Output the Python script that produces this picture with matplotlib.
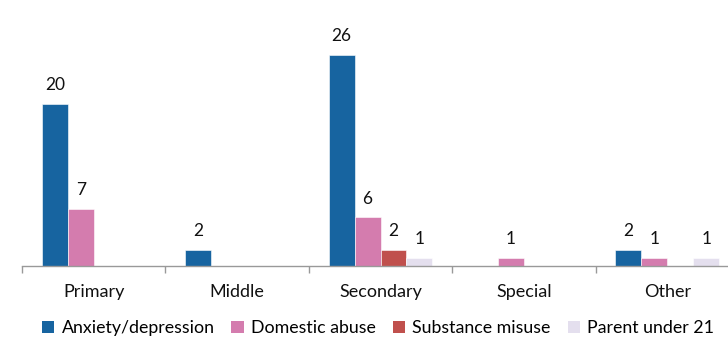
import matplotlib
matplotlib.use("Agg")
import matplotlib.pyplot as plt
from matplotlib.patches import Patch
import numpy as np

plt.rcParams['font.family'] = ['Lato', 'DejaVu Sans']

categories = ['Primary', 'Middle', 'Secondary', 'Special', 'Other']
series = ['Anxiety/depression', 'Domestic abuse', 'Substance misuse', 'Parent under 21']
anxiety = [20, 2, 26, 0, 2]
domestic = [7, 0, 6, 1, 1]
substance = [0, 0, 2, 0, 0]
parent = [0, 0, 1, 0, 1]
colors = ['#1764a0', '#d47cae', '#c0504d', '#e4dfee']

values = [anxiety, domestic, substance, parent]

fig = plt.figure(figsize=(7.28, 3.43), dpi=100)
# axis spans from the first category boundary and runs off the right edge
ax = fig.add_axes([22 / 728, 77 / 343, 717 / 728, 266 / 343])

x = np.arange(len(categories))
width = 0.181
for i, (vals, col) in enumerate(zip(values, colors)):
    pos = x + (i - 1.5) * width
    bars = ax.bar(pos, vals, width, color=col, edgecolor='white', linewidth=0.4)
    for b, v in zip(bars, vals):
        if v:
            ax.text(b.get_x() + b.get_width() / 2, v + 2.3, str(v),
                    ha='center', va='center', fontsize=12.5, color='#111111')

ax.set_xlim(-0.5, 4.5)
ax.set_ylim(0, 266 / 8.12)
ax.set_xticks(x)
ax.set_xticklabels(categories, fontsize=13, color='#111111')
ax.set_xticks(np.arange(-0.5, 5.0, 1.0), minor=True)
ax.tick_params(axis='x', which='major', length=0, pad=13)
ax.tick_params(axis='x', which='minor', length=5, color='#999999', width=1)
ax.set_yticks([])
for s in ['top', 'right', 'left']:
    ax.spines[s].set_visible(False)
ax.spines['bottom'].set_color('#999999')
ax.spines['bottom'].set_linewidth(1)

handles = [Patch(facecolor=c, edgecolor='none') for c in colors]
fig.legend(handles, series, loc='center', bbox_to_anchor=(378 / 728, 1 - 328 / 343),
           ncol=4, frameon=False, fontsize=12.8, handlelength=0.7, handleheight=0.7,
           handletextpad=0.4, columnspacing=0.95)

fig.savefig('out.png', dpi=100)
